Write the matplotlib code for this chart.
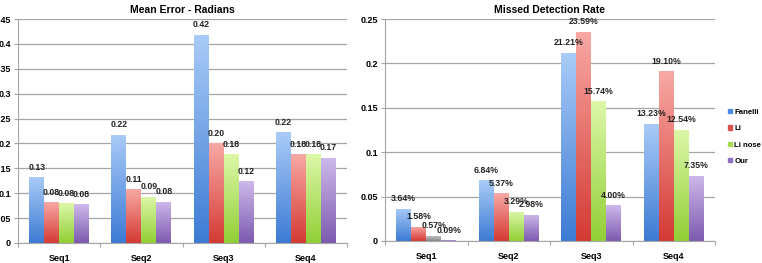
import matplotlib.pyplot as plt
import numpy as np
from matplotlib.colors import LinearSegmentedColormap

# --- data ---
categories = ["Seq1", "Seq2", "Seq3", "Seq4"]
methods = ["Fanelli", "Li", "Li nose", "Our"]

mean_error = {
    "Fanelli": [0.132, 0.217, 0.418, 0.222],
    "Li": [0.082, 0.108, 0.200, 0.178],
    "Li nose": [0.080, 0.093, 0.178, 0.178],
    "Our": [0.078, 0.083, 0.124, 0.171],
}
missed_rate = {
    "Fanelli": [0.0364, 0.0684, 0.2121, 0.1323],
    "Li": [0.0158, 0.0537, 0.2359, 0.1910],
    "Li nose": [0.0057, 0.0329, 0.1574, 0.1254],
    "Our": [0.0009, 0.0298, 0.0400, 0.0735],
}

# top / bottom gradient colours per series
grad = {
    "Fanelli": ("#a9cbf7", "#3d7bd4"),
    "Li": ("#f8a8a4", "#d43a34"),
    "Li nose": ("#dcf7a8", "#92cf36"),
    "Our": ("#cdb8ea", "#7d5bb0"),
}
legend_col = {"Fanelli": "#4f8ade", "Li": "#e0504a", "Li nose": "#a8dc50", "Our": "#8f70c0"}

plt.rcParams["font.family"] = ["Liberation Sans", "DejaVu Sans"]
plt.rcParams["font.weight"] = "bold"

W, H = 762, 263
fig = plt.figure(figsize=(W / 100, H / 100), dpi=100)

ax1 = fig.add_axes([18 / W, (H - 243) / H, (347 - 18) / W, (243 - 19) / H])
ax2 = fig.add_axes([385 / W, (H - 241) / H, (715 - 385) / W, (241 - 19) / H])

bw = 1 / 5.5


def grad_bar(ax, x, h, top, bottom):
    rect = ax.bar(x, h, bw, color="none", edgecolor="none", align="edge")[0]
    cmap = LinearSegmentedColormap.from_list("g", [bottom, top])
    img = ax.imshow(np.linspace(0, 1, 64).reshape(-1, 1), cmap=cmap, origin="lower",
                    extent=[x, x + bw, 0, h], aspect="auto", zorder=2)
    img.set_clip_path(rect)


def draw(ax, data, ymax, step, fmt, title, special=None):
    ax.set_xlim(-0.5, 3.5)
    ax.set_ylim(0, ymax)
    for i, m in enumerate(methods):
        for j, v in enumerate(data[m]):
            x = j - 2 * bw + i * bw
            top, bottom = grad[m]
            if special and (m, j) in special:
                top, bottom = special[(m, j)]
            grad_bar(ax, x, v, top, bottom)
            ax.text(x + bw / 2, v + ymax * 0.025, fmt(v), ha="center", va="bottom",
                    fontsize=6.3, fontweight="bold", color="#222222", zorder=3)
    ax.set_xlim(-0.5, 3.5)
    ax.set_ylim(0, ymax)
    ax.set_yticks(np.arange(0, ymax + step / 2, step))
    ax.yaxis.grid(True, color="#a6a6a6", lw=0.9)
    ax.set_axisbelow(True)
    ax.set_xticks(np.arange(-0.5, 4, 1))
    ax.set_xticklabels([])
    ax.set_xticks(range(4), minor=True)
    ax.set_xticklabels(categories, minor=True, fontsize=6.5, fontweight="bold")
    ax.tick_params(axis="x", which="minor", length=0, pad=8)
    ax.tick_params(axis="x", which="major", length=3, color="#a6a6a6")
    ax.tick_params(axis="y", length=3, color="#a6a6a6", labelsize=6.5, pad=2)
    for s in ["top", "right"]:
        ax.spines[s].set_visible(False)
    for s in ["left", "bottom"]:
        ax.spines[s].set_color("#a6a6a6")
    ax.set_title(title, fontsize=7.5, fontweight="bold", pad=4)


draw(ax1, mean_error, 0.45, 0.05, lambda v: f"{v:.2f}", "Mean Error - Radians")
ax1.set_yticklabels(["0", "0.05", "0.1", "0.15", "0.2", "0.25", "0.3", "0.35", "0.4", "0.45"])
draw(ax2, missed_rate, 0.25, 0.05, lambda v: f"{v * 100:.2f}%", "Missed Detection Rate",
     special={("Li nose", 0): ("#c8c8c8", "#8a8a8a")})
ax2.set_yticklabels(["0", "0.05", "0.1", "0.15", "0.2", "0.25"])

handles = [plt.Rectangle((0, 0), 1, 1, color=legend_col[m]) for m in methods]
fig.legend(handles, methods, loc="upper left", bbox_to_anchor=(728 / W, (H - 109) / H),
           frameon=False, fontsize=5.6, handlelength=0.5, handleheight=0.5,
           handletextpad=0.3, labelspacing=1.2, borderaxespad=0, borderpad=0)

fig.savefig("out.png", dpi=100)
